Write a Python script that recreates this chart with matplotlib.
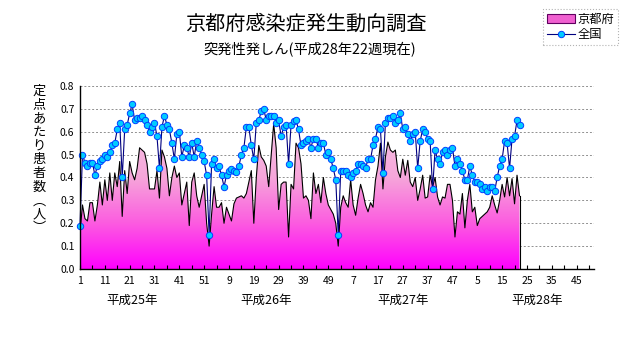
import numpy as np
import matplotlib
matplotlib.use('Agg')
import matplotlib.pyplot as plt
from matplotlib.colors import LinearSegmentedColormap
from matplotlib.patches import Patch
from matplotlib.lines import Line2D

plt.rcParams['font.family'] = ['Noto Sans CJK JP', 'DejaVu Sans']

# 京都府 (weekly values, H25-H28)
kyoto_h25 = [0.16, 0.28, 0.22, 0.21, 0.29, 0.29, 0.21, 0.28, 0.38, 0.28,
             0.39, 0.30, 0.42, 0.30, 0.42, 0.36, 0.47, 0.23, 0.43, 0.33,
             0.47, 0.42, 0.39, 0.44, 0.53, 0.52, 0.51, 0.46, 0.35, 0.35,
             0.35, 0.43, 0.31, 0.52, 0.49, 0.44, 0.32, 0.40, 0.45, 0.40,
             0.42, 0.28, 0.33, 0.38, 0.19, 0.38, 0.42, 0.32, 0.27, 0.32,
             0.37, 0.20]
kyoto_h26 = [0.10, 0.24, 0.36, 0.27, 0.27, 0.29, 0.20, 0.27, 0.24, 0.21,
             0.285, 0.31, 0.315, 0.32, 0.31, 0.33, 0.38, 0.43, 0.20, 0.40,
             0.54, 0.49, 0.475, 0.45, 0.36, 0.50, 0.635, 0.53, 0.26, 0.37,
             0.38, 0.38, 0.14, 0.37, 0.35, 0.55, 0.53, 0.46, 0.31, 0.32,
             0.30, 0.22, 0.42, 0.33, 0.37, 0.29, 0.40, 0.33, 0.28, 0.26,
             0.24, 0.20]
kyoto_h27 = [0.10, 0.27, 0.32, 0.29, 0.27, 0.39, 0.28, 0.235, 0.31, 0.37,
             0.33, 0.28, 0.25, 0.29, 0.27, 0.39, 0.45, 0.55, 0.35, 0.49,
             0.555, 0.52, 0.51, 0.52, 0.43, 0.40, 0.48, 0.41, 0.475, 0.38,
             0.36, 0.40, 0.30, 0.35, 0.41, 0.31, 0.315, 0.41, 0.36, 0.40,
             0.315, 0.28, 0.315, 0.31, 0.37, 0.37, 0.30, 0.14, 0.25, 0.24,
             0.33, 0.18]
kyoto_h28 = [0.30, 0.37, 0.25, 0.27, 0.19, 0.22, 0.23, 0.24, 0.25, 0.27,
             0.32, 0.28, 0.245, 0.30, 0.37, 0.315, 0.40, 0.32, 0.395, 0.285,
             0.41, 0.32]

# 全国
zenkoku_h25 = [0.19, 0.50, 0.465, 0.45, 0.465, 0.465, 0.41, 0.45, 0.47, 0.48,
               0.50, 0.49, 0.51, 0.54, 0.55, 0.61, 0.64, 0.40, 0.61, 0.63,
               0.68, 0.72, 0.65, 0.66, 0.66, 0.67, 0.65, 0.63, 0.60, 0.62,
               0.64, 0.58, 0.44, 0.62, 0.67, 0.63, 0.61, 0.55, 0.48, 0.59,
               0.60, 0.49, 0.54, 0.53, 0.49, 0.55, 0.49, 0.56, 0.53, 0.50,
               0.47, 0.41]
zenkoku_h26 = [0.15, 0.46, 0.48, 0.44, 0.45, 0.41, 0.36, 0.41, 0.43, 0.435,
               0.43, 0.425, 0.45, 0.50, 0.53, 0.62, 0.62, 0.54, 0.48, 0.64,
               0.65, 0.69, 0.70, 0.65, 0.67, 0.67, 0.67, 0.64, 0.65, 0.58,
               0.62, 0.63, 0.46, 0.63, 0.645, 0.65, 0.61, 0.54, 0.55, 0.56,
               0.57, 0.53, 0.57, 0.57, 0.53, 0.55, 0.55, 0.50, 0.51, 0.48,
               0.44, 0.39]
zenkoku_h27 = [0.15, 0.43, 0.43, 0.43, 0.41, 0.40, 0.42, 0.43, 0.46, 0.46,
               0.45, 0.44, 0.48, 0.48, 0.54, 0.57, 0.62, 0.61, 0.42, 0.64,
               0.66, 0.66, 0.67, 0.64, 0.65, 0.68, 0.61, 0.62, 0.59, 0.56,
               0.59, 0.60, 0.44, 0.56, 0.61, 0.60, 0.57, 0.56, 0.35, 0.52,
               0.48, 0.46, 0.51, 0.52, 0.50, 0.52, 0.53, 0.45, 0.48, 0.46,
               0.43, 0.39]
zenkoku_h28 = [0.39, 0.45, 0.41, 0.38, 0.38, 0.37, 0.35, 0.36, 0.34, 0.36,
               0.36, 0.34, 0.40, 0.45, 0.48, 0.56, 0.55, 0.44, 0.57, 0.58,
               0.65, 0.63]

n_weeks = 52 * 4
tick_labels = ['1', '11', '21', '31', '41', '51', '9', '19', '29', '39', '49',
               '7', '17', '27', '37', '47', '5', '15', '25', '35', '45']
years = ['平成25年', '平成26年', '平成27年', '平成28年']
year_label_pos = [21, 75, 130, 184]

kyoto = np.array(kyoto_h25 + kyoto_h26 + kyoto_h27 + kyoto_h28)
zenkoku = np.array(zenkoku_h25 + zenkoku_h26 + zenkoku_h27 + zenkoku_h28)
x = np.arange(len(kyoto))

fig = plt.figure(figsize=(6.31, 3.47), dpi=100)
ax = fig.add_axes([80 / 631, 78 / 347, 514 / 631, 183 / 347])

# gradient pink area (magenta at the bottom, pale pink near the peaks)
cmap = LinearSegmentedColormap.from_list('pk', ['#ff00ff', '#fc5ce0', '#f6a6da', '#f7bfe4'])
grad = np.linspace(0, 1, 256).reshape(-1, 1)
im = ax.imshow(grad, extent=[0, n_weeks - 1, 0, 0.6], origin='lower',
               aspect='auto', cmap=cmap, zorder=1, interpolation='bilinear')
poly = ax.fill_between(x, kyoto, 0, facecolor='none', edgecolor='none')
im.set_clip_path(poly.get_paths()[0], transform=ax.transData)
ax.plot(x, kyoto, color='black', lw=0.8, zorder=2)
ax.plot([x[-1], x[-1]], [kyoto[-1], 0], color='black', lw=0.8, zorder=2)

ax.plot(x, zenkoku, color='#000080', lw=0.8, marker='o', ms=4.6,
        mfc='#00ccff', mec='#0040ff', mew=0.7, zorder=3, clip_on=False)

ax.set_xlim(0, n_weeks - 1)
ax.set_ylim(0, 0.8)
ax.set_yticks(np.arange(0, 0.81, 0.1))
ax.set_yticklabels(['%.1f' % v for v in np.arange(0, 0.81, 0.1)])
ticks = np.arange(0, n_weeks, 5)
ax.set_xticks(ticks)
labels = [''] * len(ticks)
for k, lab in enumerate(tick_labels):
    labels[2 * k] = lab
ax.set_xticklabels(labels)

ax.set_axisbelow(True)
ax.yaxis.grid(True, color='#909090', linestyle=(0, (2, 2)), lw=0.7)
ax.xaxis.set_zorder(4)
for s in ['top', 'right']:
    ax.spines[s].set_visible(False)
for s in ['left', 'bottom']:
    ax.spines[s].set_linewidth(1.0)
    ax.spines[s].set_zorder(5)
ax.tick_params(axis='x', direction='in', length=3, width=0.8, pad=5, labelsize=7.5)
ax.tick_params(axis='y', length=0, pad=4, labelsize=7.5)

for lab, pos in zip(years, year_label_pos):
    ax.text(pos, -0.17, lab, transform=ax.get_xaxis_transform(),
            ha='center', va='center', fontsize=9)

fig.text(306 / 631, 1 - 24 / 347, '京都府感染症発生動向調査',
         ha='center', va='center', fontsize=14.5)
fig.text(310 / 631, 1 - 50 / 347, '突発性発しん(平成28年22週現在)',
         ha='center', va='center', fontsize=10.3)
fig.text(39 / 631, 1 - 160 / 347, '\n'.join('定点あたり患者数︵人︶'),
         ha='center', va='center', fontsize=9.5, linespacing=1.08)

handles = [Patch(facecolor='#f060d0', edgecolor='#600060', lw=0.8),
           Line2D([], [], color='#000080', lw=0.8, marker='o', ms=4.6,
                  mfc='#00ccff', mec='#0040ff', mew=0.7)]
leg = fig.legend(handles, ['京都府', '全国'], loc='upper left',
                 bbox_to_anchor=(543 / 631, 1 - 9 / 347), fontsize=8.8,
                 frameon=True, fancybox=False, edgecolor='#a0a0a0',
                 borderpad=0.3, labelspacing=0.2, handlelength=2.3,
                 handletextpad=0.2, borderaxespad=0)
leg.get_frame().set_linewidth(0.8)
leg.get_frame().set_linestyle(':')

fig.savefig('out.png', dpi=100)
